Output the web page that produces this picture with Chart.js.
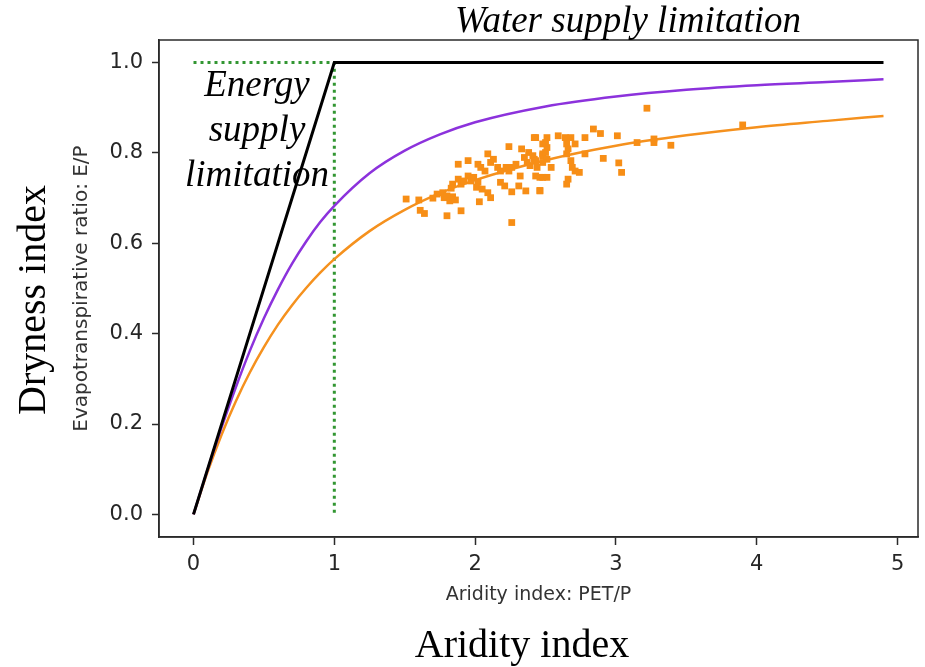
<!DOCTYPE html>
<html>
<head>
<meta charset="utf-8">
<script src="https://cdn.jsdelivr.net/npm/chart.js@4"></script>
<style>
html,body{margin:0;padding:0;background:#fff;}
#wrap{width:925px;height:667px;position:relative;}
</style>
</head>
<body>
<div id="wrap"><canvas id="c" width="925" height="667"></canvas></div>
<script>
// ---- data ----
const xTicks = [0, 1, 2, 3, 4, 5];
const yTicks = [0.0, 0.2, 0.4, 0.6, 0.8, 1.0];

const limitX = [0, 1, 4.9];
const limitY = [0, 1, 1];

const guideX = [0, 1, 1];
const guideY = [1, 1, 0];

const curveX = [0, 0.1, 0.2, 0.3, 0.4, 0.5, 0.6, 0.7, 0.8, 0.9, 1.0, 1.25, 1.5, 1.75, 2.0, 2.5, 3.0, 3.5, 4.0, 4.5, 4.9];
const purpleY = [0, 0.099, 0.193, 0.281, 0.362, 0.434, 0.498, 0.555, 0.604, 0.647, 0.683, 0.755, 0.805, 0.841, 0.868, 0.903, 0.925, 0.940, 0.950, 0.957, 0.963];
const orangeY = [0, 0.094, 0.177, 0.250, 0.314, 0.370, 0.420, 0.463, 0.501, 0.535, 0.565, 0.627, 0.674, 0.711, 0.740, 0.784, 0.816, 0.839, 0.857, 0.871, 0.882];

const scatterX = [1.51, 1.60, 1.61, 1.64, 1.73, 1.77, 1.78, 1.80, 1.82, 1.84, 1.86, 1.80, 1.90, 1.84, 1.88, 1.90, 1.92, 1.95, 1.97, 1.99,
  2.02, 2.01, 2.05, 2.09, 2.11, 2.03, 1.88, 1.95, 2.02, 2.04, 2.09, 2.11, 2.13, 2.16, 2.18, 2.22, 2.24, 2.26, 2.18, 2.21,
  2.26, 2.26, 2.24, 2.29, 2.32, 2.33, 2.31, 2.36, 2.38, 2.37, 2.39, 2.42, 2.43, 2.44, 2.46, 2.46, 2.48, 2.48, 2.42, 2.51,
  2.50, 2.51, 2.41, 2.43, 2.48, 2.50, 2.51, 2.48, 2.54, 2.43, 2.48, 2.51, 2.46, 2.59, 2.64, 2.68, 2.65, 2.66, 2.65, 2.71,
  2.68, 2.69, 2.71, 2.74, 2.66, 2.65, 2.78, 2.78, 2.84, 2.89, 2.91, 3.01, 3.02, 3.04, 3.15, 3.22, 3.27, 3.27, 3.39, 3.90,
  1.70, 1.83, 2.07, 2.35];
const scatterY = [0.698, 0.696, 0.673, 0.666, 0.709, 0.712, 0.701, 0.705, 0.694, 0.703, 0.696, 0.661, 0.672, 0.731, 0.742, 0.731, 0.738, 0.749, 0.738, 0.746,
  0.735, 0.724, 0.720, 0.712, 0.701, 0.692, 0.775, 0.783, 0.775, 0.768, 0.798, 0.779, 0.786, 0.768, 0.760, 0.768, 0.760, 0.768, 0.735, 0.727,
  0.714, 0.646, 0.814, 0.775, 0.749, 0.809, 0.727, 0.716, 0.801, 0.779, 0.772, 0.786, 0.834, 0.768, 0.746, 0.716, 0.798, 0.820, 0.834, 0.834,
  0.823, 0.812, 0.794, 0.783, 0.794, 0.801, 0.786, 0.779, 0.768, 0.749, 0.746, 0.746, 0.717, 0.838, 0.834, 0.834, 0.820, 0.809, 0.798, 0.820,
  0.783, 0.768, 0.760, 0.757, 0.742, 0.731, 0.834, 0.798, 0.853, 0.843, 0.788, 0.838, 0.778, 0.757, 0.823, 0.899, 0.831, 0.823, 0.817, 0.862,
  0.700, 0.722, 0.760, 0.790];

const xTitle = 'Aridity index: PET/P';
const yTitle = 'Evapotranspirative ratio: E/P';
const topNote = 'Water supply limitation';
const leftNote = ['Energy', 'supply', 'limitation'];
const outerY = 'Dryness index';
const outerX = 'Aridity index';

// ---- build ----
const pts = (xs, ys) => xs.map((x, i) => ({x: x, y: ys[i]}));
const AXIS = '#2a2a2a';
const TICKFONT = {family: 'DejaVu Sans', size: 21};

const notes = {
  id: 'notes',
  afterDraw(chart) {
    const ctx = chart.ctx;
    const a = chart.chartArea;
    ctx.save();
    // frame
    ctx.strokeStyle = AXIS;
    ctx.lineWidth = 1.5;
    ctx.strokeRect(a.left, a.top, a.right - a.left, a.bottom - a.top);
    ctx.fillStyle = '#000';
    ctx.textAlign = 'center';
    ctx.textBaseline = 'alphabetic';
    ctx.font = 'italic 37px "Liberation Serif"';
    ctx.fillText(topNote, 628, 32);
    leftNote.forEach((t, i) => ctx.fillText(t, 257, 96 + i * 45));
    ctx.font = '40px "Liberation Serif"';
    ctx.fillText(outerX, 522, 657);
    ctx.translate(45, 300);
    ctx.rotate(-Math.PI / 2);
    ctx.fillText(outerY, 0, 0);
    ctx.restore();
  }
};

new Chart(document.getElementById('c'), {
  type: 'line',
  data: {
    datasets: [
      {label: 'obs', data: pts(scatterX, scatterY), showLine: false, pointStyle: 'rect',
       pointRadius: 4.8, pointBackgroundColor: 'rgb(247,142,22)', pointBorderWidth: 0, order: 0},
      {label: 'limit', data: pts(limitX, limitY), borderColor: '#000', borderWidth: 3, pointRadius: 0, order: 1},
      {label: 'guide', data: pts(guideX, guideY), borderColor: 'rgb(50,150,50)', borderWidth: 3,
       borderDash: [3, 4], pointRadius: 0, order: 4},
      {label: 'purple', data: pts(curveX, purpleY), borderColor: 'rgb(140,50,220)', borderWidth: 2.5,
       pointRadius: 0, cubicInterpolationMode: 'monotone', order: 2},
      {label: 'orange', data: pts(curveX, orangeY), borderColor: 'rgb(245,145,30)', borderWidth: 2.5,
       pointRadius: 0, cubicInterpolationMode: 'monotone', order: 3}
    ]
  },
  options: {
    responsive: false,
    animation: false,
    events: [],
    layout: {padding: {left: 0, top: 40, right: 7, bottom: 0}},
    plugins: {legend: {display: false}, tooltip: {enabled: false}},
    scales: {
      x: {
        type: 'linear', min: -0.245, max: 5.145,
        afterBuildTicks: s => { s.ticks = xTicks.map(v => ({value: v})); },
        afterFit: s => { s.height = 130; },
        ticks: {color: '#262626', font: TICKFONT, padding: 7, maxRotation: 0, callback: v => String(v)},
        grid: {drawOnChartArea: false, drawTicks: true, tickLength: 8, tickWidth: 1.5, tickColor: AXIS},
        border: {display: true, color: AXIS, width: 1.5},
        title: {display: true, text: xTitle, color: '#333', font: {family: 'DejaVu Sans', size: 19},
                padding: {top: 0, bottom: 61}}
      },
      y: {
        type: 'linear', min: -0.05, max: 1.05,
        afterBuildTicks: s => { s.ticks = yTicks.map(v => ({value: v})); },
        afterFit: s => { s.width = 159; },
        ticks: {color: '#262626', font: TICKFONT, padding: 9, callback: v => Number(v).toFixed(1)},
        grid: {drawOnChartArea: false, drawTicks: true, tickLength: 7, tickWidth: 1.5, tickColor: AXIS},
        border: {display: true, color: AXIS, width: 1.5},
        title: {display: true, text: yTitle, color: '#333', font: {family: 'DejaVu Sans', size: 20},
                padding: {top: 70, bottom: 0}}
      }
    }
  },
  plugins: [notes]
});
</script>
</body>
</html>
